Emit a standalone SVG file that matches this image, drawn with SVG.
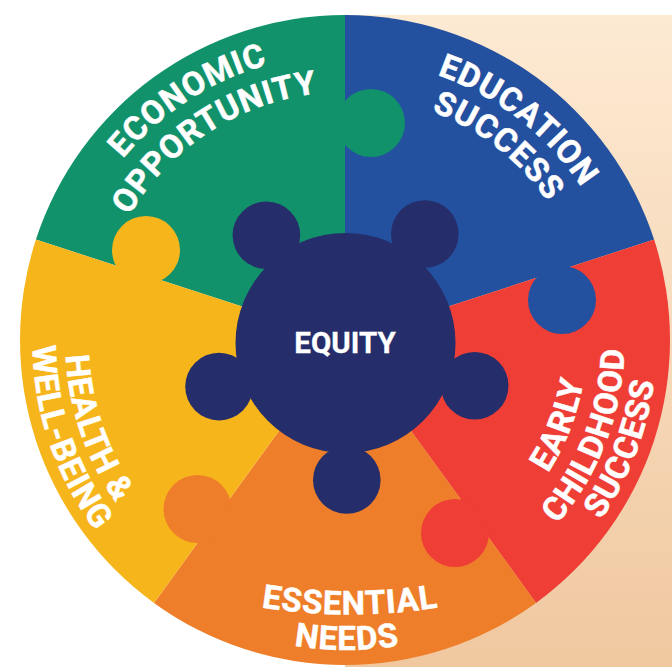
<svg xmlns="http://www.w3.org/2000/svg" width="672" height="667" viewBox="0 0 672 667">
<defs>
<linearGradient id="bg" x1="0" y1="0" x2="0" y2="1">
<stop offset="0" stop-color="#FDEAD3"/>
<stop offset="1" stop-color="#F0C8A0"/>
</linearGradient>
<path id="pEco" d="M61.4,292 A288,288 0 0 1 414.7,62.6"/>
<path id="pOpp" d="M98.8,298.6 A250,250 0 0 1 405.5,99.4"/>
<path id="pEdu" d="M300.8,63 A282.5,282.5 0 0 1 626.4,317.4"/>
<path id="pSuc1" d="M306.4,98.5 A246.5,246.5 0 0 1 590.6,320.5"/>
<path id="pEarly" d="M435.5,565.9 A241.5,241.5 0 0 0 562.1,236.1"/>
<path id="pChild" d="M449.7,601.2 A279.5,279.5 0 0 0 596.2,219.5"/>
<path id="pSuc2" d="M461.7,630.8 A311.5,311.5 0 0 0 625,205.4"/>
<path id="pHealth" d="M98.2,210.8 A279.5,279.5 0 0 0 231.3,597.3"/>
<path id="pWell" d="M69.1,195.3 A312.5,312.5 0 0 0 217.9,627.5"/>
<path id="pEss" d="M210,596.7 A560,560 0 0 0 490,596.7"/>
<path id="pNeeds" d="M221.7,623.4 A308,308 0 0 0 472.3,623.4"/>
</defs>
<style>
.lbl{font-family:Roboto,"Liberation Sans",sans-serif;font-weight:700;font-size:33px;letter-spacing:0.8px;fill:#FFFFFF;stroke:#FFFFFF;stroke-width:0.5px}
.eq{font-family:Roboto,"Liberation Sans",sans-serif;font-weight:700;font-size:29.5px;fill:#FFFFFF;stroke:#FFFFFF;stroke-width:0.3px}
.green{fill:#12926A}.blue{fill:#23509F}.red{fill:#EE3E36}.orange{fill:#EE7E29}.yellow{fill:#F7B51C}.navy{fill:#252E6A}
</style>
<rect x="345" y="15" width="327" height="652" fill="url(#bg)"/>
<g id="economic-opportunity">
<path class="green" d="M345,340 L35.91,239.57 A325,325 0 0 1 345,15 Z"/>
</g>
<g id="education-success">
<path class="blue" d="M345,340 L345,15 A325,325 0 0 1 654.09,239.57 Z"/>
</g>
<g id="early-childhood-success">
<path class="red" d="M345,340 L654.09,239.57 A325,325 0 0 1 536.03,602.93 Z"/>
</g>
<g id="essential-needs">
<path class="orange" d="M345,340 L536.03,602.93 A325,325 0 0 1 153.97,602.93 Z"/>
</g>
<g id="health-well-being">
<path class="yellow" d="M345,340 L153.97,602.93 A325,325 0 0 1 35.91,239.57 Z"/>
</g>
<g id="tabs">
<circle class="green" cx="371" cy="123" r="34"/>
<circle class="blue" cx="562" cy="300" r="34"/>
<circle class="red" cx="455" cy="533" r="34"/>
<circle class="orange" cx="197.5" cy="509" r="34"/>
<circle class="yellow" cx="146" cy="250" r="34"/>
</g>
<g id="equity">
<circle class="navy" cx="345.5" cy="343" r="110"/>
<circle class="navy" cx="266.4" cy="235.3" r="33.8"/>
<circle class="navy" cx="424.8" cy="234" r="33.8"/>
<circle class="navy" cx="474.7" cy="385.7" r="33.8"/>
<circle class="navy" cx="219" cy="386.6" r="33.8"/>
<circle class="navy" cx="346.8" cy="480" r="33.8"/>
<text class="eq" x="345" y="353" text-anchor="middle">EQUITY</text>
</g>
<g id="labels">
<text class="lbl" text-anchor="middle"><textPath href="#pEco" startOffset="50%">ECONOMIC</textPath></text>
<text class="lbl" text-anchor="middle"><textPath href="#pOpp" startOffset="50%">OPPORTUNITY</textPath></text>
<text class="lbl" text-anchor="middle"><textPath href="#pEdu" startOffset="50%">EDUCATION</textPath></text>
<text class="lbl" text-anchor="middle"><textPath href="#pSuc1" startOffset="50%">SUCCESS</textPath></text>
<text class="lbl" text-anchor="middle"><textPath href="#pEarly" startOffset="50%">EARLY</textPath></text>
<text class="lbl" text-anchor="middle"><textPath href="#pChild" startOffset="50%">CHILDHOOD</textPath></text>
<text class="lbl" text-anchor="middle"><textPath href="#pSuc2" startOffset="50%">SUCCESS</textPath></text>
<text class="lbl" text-anchor="middle"><textPath href="#pHealth" startOffset="50%">HEALTH &amp;</textPath></text>
<text class="lbl" text-anchor="middle"><textPath href="#pWell" startOffset="50%">WELL-BEING</textPath></text>
<text class="lbl" text-anchor="middle"><textPath href="#pEss" startOffset="50%">ESSENTIAL</textPath></text>
<text class="lbl" text-anchor="middle"><textPath href="#pNeeds" startOffset="50%">NEEDS</textPath></text>
</g>
</svg>
